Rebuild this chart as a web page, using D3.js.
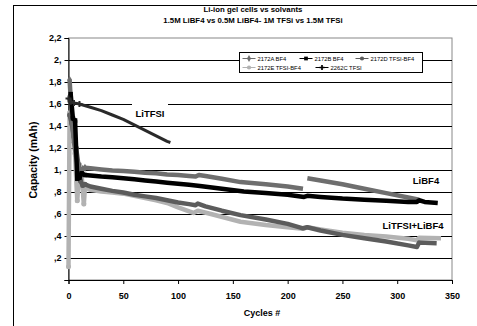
<!DOCTYPE html>
<html>
<head>
<meta charset="utf-8">
<script src="https://cdn.jsdelivr.net/npm/d3@7"></script>
<style>
  body { margin: 0; background: #fff; }
  text { font-family: "Liberation Sans", Arial, sans-serif; font-weight: bold; }
</style>
</head>
<body>
<div class="chart"></div>
<script>
// cycle / capacity pairs (null = gap in the trace)
const s2172A = [[1,1.82],[3,1.48],[5,1.25],[7,1.12],[9,1.02],[11,0.99],[13,1.01],[15,1.02],[20,1.015],[30,1.005],[40,0.995],[50,0.99],[60,0.985],[70,0.975],[80,0.97],[90,0.96],[100,0.955],[110,0.945],[116,0.94],[119,0.955],[125,0.945],[140,0.92],[157,0.89],[180,0.87],[200,0.85],[214,0.83],[216,null],[218,0.925],[230,0.905],[250,0.87],[270,0.83],[290,0.79],[310,0.75],[320,0.73]];
const s2172B = [[2,1.69],[4,1.47],[6,1.45],[8,0.92],[10,0.93],[12,0.97],[15,0.955],[20,0.95],[30,0.94],[40,0.935],[50,0.925],[60,0.915],[70,0.905],[80,0.895],[90,0.885],[100,0.875],[110,0.865],[120,0.855],[140,0.83],[160,0.805],[180,0.79],[200,0.775],[215,0.755],[218,0.765],[230,0.755],[250,0.74],[270,0.73],[290,0.72],[310,0.71],[318,0.71],[320,0.725],[325,0.71],[337,0.70]];
const s2172D = [[1,1.5],[3,1.42],[5,1.3],[7,1.2],[9,1.05],[11,0.9],[13,0.86],[15,0.87],[20,0.85],[30,0.83],[40,0.81],[50,0.795],[60,0.775],[70,0.76],[80,0.745],[90,0.725],[100,0.705],[110,0.69],[116,0.68],[118,0.695],[125,0.67],[140,0.63],[157,0.59],[180,0.55],[200,0.51],[214,0.47],[218,0.48],[230,0.45],[250,0.41],[270,0.38],[290,0.35],[310,0.315],[318,0.30],[320,0.34],[336,0.335]];
const s2172E = [[0,0.12],[1,1.52],[3,1.4],[5,1.35],[6,1.15],[8,0.72],[10,1.05],[12,0.95],[14,0.69],[15,0.84],[20,0.82],[30,0.805],[40,0.795],[50,0.785],[60,0.765],[70,0.745],[80,0.725],[90,0.70],[100,0.66],[114,0.61],[118,0.63],[130,0.6],[157,0.53],[180,0.50],[200,0.48],[214,0.465],[218,0.48],[230,0.46],[250,0.43],[270,0.41],[290,0.395],[310,0.375],[318,0.36],[320,0.385],[340,0.38]];
const s2262C = [[0,1.65],[2,1.62],[5,1.61],[10,1.6],[20,1.57],[30,1.54],[40,1.5],[50,1.46],[60,1.41],[70,1.36],[80,1.31],[90,1.26],[93,1.25]];

const seriesNames = ['2172A BF4', '2172B BF4', '2172D TFSI-BF4', '2172E TFSI-BF4', '2262C TFSI'];
const xTicks = [0, 50, 100, 150, 200, 250, 300, 350];
const yTicks = [0, 0.2, 0.4, 0.6, 0.8, 1, 1.2, 1.4, 1.6, 1.8, 2, 2.2];
const yTickLabels = ['', ',2', ',4', ',6', ',8', '1,', '1,2', '1,4', '1,6', '1,8', '2,', '2,2'];

const width = 477, height = 326;

const svg = d3.select('.chart').append('svg')
  .attr('width', width)
  .attr('height', height)

// outer frame (only left and top edges fall inside the picture)
svg.append('rect')
  .attr('x', 13.5).attr('y', 5.5)
  .attr('width', 500).attr('height', 400)
  .style('fill', 'none').style('stroke', '#000')

const x = d3.scaleLinear().domain([0, 350]).range([68.5, 452]);
const y = d3.scaleLinear().domain([0, 2.2]).range([280, 38]);

// titles
svg.append('text').attr('x', 253).attr('y', 11.5).attr('text-anchor', 'middle')
  .attr('font-size', 7.8).text('Li-ion gel cells vs solvants')
svg.append('text').attr('x', 253).attr('y', 22.5).attr('text-anchor', 'middle')
  .attr('font-size', 7.8).text('1.5M LiBF4 vs 0.5M LiBF4- 1M TFSi vs 1.5M TFSi')

// plot area border
svg.append('rect')
  .attr('x', x(0)).attr('y', y(2.2))
  .attr('width', x(350) - x(0)).attr('height', y(0) - y(2.2))
  .style('fill', 'none').style('stroke', '#888')

// grid lines
svg.append('g').selectAll('line')
  .data(yTicks.filter(d => d > 0 && d < 2.2))
  .join('line')
  .attr('x1', x(0)).attr('x2', x(350))
  .attr('y1', d => Math.round(y(d)) + 0.5).attr('y2', d => Math.round(y(d)) + 0.5)
  .style('stroke', '#000').style('stroke-width', 1)

// axes
const yAxis = svg.append('g')
  .attr('transform', `translate(${x(0)},0)`)
  .call(d3.axisLeft(y).tickValues(yTicks).tickFormat((d, i) => yTickLabels[i]).tickSize(4).tickPadding(3))
yAxis.selectAll('text').attr('font-size', 9).style('fill', '#000')
yAxis.selectAll('line, path').style('stroke', '#000')

const xAxis = svg.append('g')
  .attr('transform', `translate(0,${y(0)})`)
  .call(d3.axisBottom(x).tickValues(xTicks).tickSize(4).tickPadding(9))
xAxis.selectAll('text').attr('font-size', 9).style('fill', '#000')
xAxis.selectAll('line, path').style('stroke', '#000')

svg.append('text').attr('x', 262).attr('y', 316).attr('text-anchor', 'middle')
  .attr('font-size', 9).text('Cycles #')
svg.append('text')
  .attr('transform', 'translate(37,160) rotate(-90)')
  .attr('text-anchor', 'middle').attr('font-size', 10.5).text('Capacity (mAh)')

// annotation labels
const notes = [['LiTFSI', 150, 117], ['LiBF4', 426, 184], ['LiTFSI+LiBF4', 413, 229]];
svg.append('g').selectAll('rect')
  .data(notes.slice(0, 1))
  .join('rect')
  .attr('x', d => d[1] - 18).attr('y', d => d[2] - 14)
  .attr('width', 36).attr('height', 18)
  .style('fill', '#fff')
svg.append('g').selectAll('text')
  .data(notes)
  .join('text')
  .attr('x', d => d[1]).attr('y', d => d[2])
  .attr('text-anchor', 'middle').attr('font-size', 9.5)
  .text(d => d[0])

// series, drawn back to front
const series = [
  {name: seriesNames[3], data: s2172E, color: '#b2b2b2', width: 4.5, shape: d3.symbolCircle},
  {name: seriesNames[2], data: s2172D, color: '#5c5c5c', width: 4.5, shape: d3.symbolCircle},
  {name: seriesNames[0], data: s2172A, color: '#6e6e6e', width: 4.5, shape: d3.symbolDiamond},
  {name: seriesNames[1], data: s2172B, color: '#000', width: 4.5, shape: d3.symbolSquare},
  {name: seriesNames[4], data: s2262C, color: '#2a2a2a', width: 3, shape: d3.symbolCross}
];

const line = d3.line()
  .defined(d => d[1] !== null)
  .x(d => x(d[0])).y(d => y(d[1]));

series.forEach(s => {
  svg.append('path')
    .datum(s.data)
    .attr('d', line)
    .style('fill', 'none')
    .style('stroke', s.color)
    .style('stroke-width', s.width)
    .style('stroke-linejoin', 'round')
  // the first cycles are sparse enough to show single markers
  svg.append('g').selectAll('path')
    .data(s.data.filter(d => d[0] <= 15))
    .join('path')
    .attr('transform', d => `translate(${x(d[0])},${y(d[1])})`)
    .attr('d', d3.symbol().type(s.shape).size(20))
    .style('fill', s.color)
})

// legend
const legend = svg.append('g').attr('transform', 'translate(239.5,52.5)')
legend.append('rect')
  .attr('width', 183).attr('height', 20)
  .style('fill', '#fff').style('stroke', '#000')

const legendItems = [
  {name: seriesNames[0], color: '#6e6e6e', shape: d3.symbolDiamond, x: 3, y: 6},
  {name: seriesNames[1], color: '#000', shape: d3.symbolSquare, x: 60, y: 6},
  {name: seriesNames[2], color: '#5c5c5c', shape: d3.symbolCircle, x: 116, y: 6},
  {name: seriesNames[3], color: '#b2b2b2', shape: d3.symbolCircle, x: 3, y: 15},
  {name: seriesNames[4], color: '#000', shape: d3.symbolCross, x: 76, y: 15}
];

const li = legend.selectAll('g.item')
  .data(legendItems)
  .join('g')
  .attr('class', 'item')
  .attr('transform', d => `translate(${d.x},${d.y})`)
li.append('line')
  .attr('x1', 0).attr('x2', 13)
  .style('stroke', d => d.color).style('stroke-width', 1)
li.append('path')
  .attr('transform', 'translate(6.5,0)')
  .attr('d', d => d3.symbol().type(d.shape).size(14)())
  .style('fill', d => d.color)
li.append('text')
  .attr('x', 15).attr('y', 2.2)
  .attr('font-size', 5.8).style('font-weight', 'normal')
  .text(d => d.name)
</script>
</body>
</html>
